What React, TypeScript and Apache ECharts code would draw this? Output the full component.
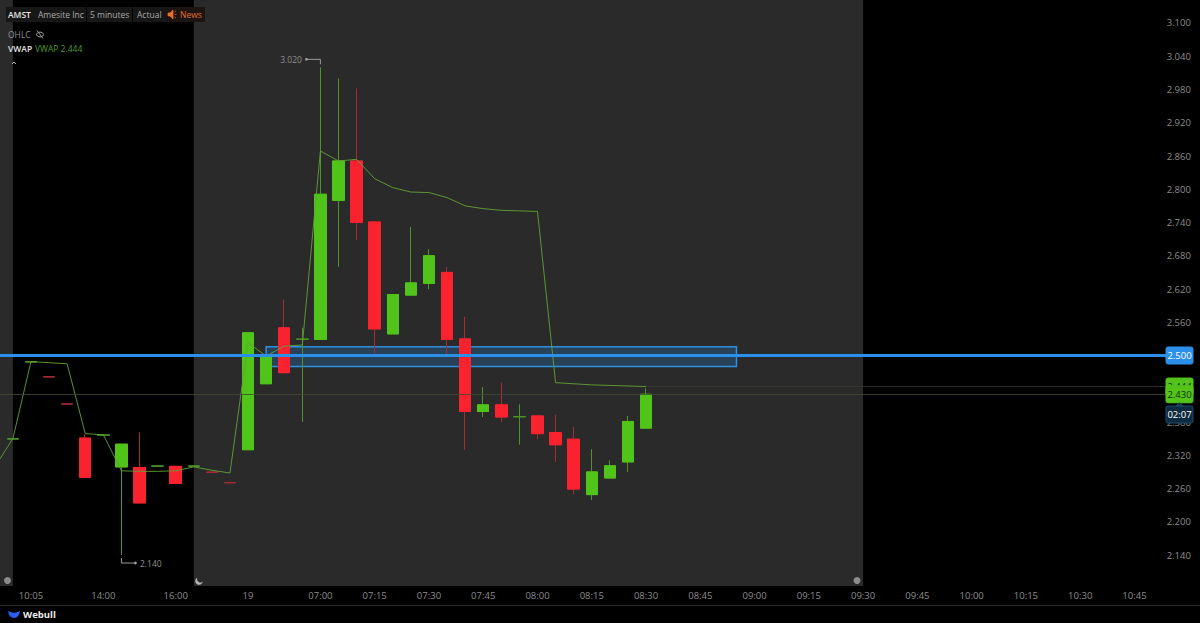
import React, { useEffect, useRef } from "react";
import * as echarts from "echarts";

const FONT = '"Open Sans", "Noto Sans", sans-serif';

const categories = ["", "", "10:05", "", "", "", "14:00", "", "", "", "16:00", "", "", "", "19", "", "", "", "07:00", "", "", "07:15", "", "", "07:30", "", "", "07:45", "", "", "08:00", "", "", "08:15", "", "", "08:30", "", "", "08:45", "", "", "09:00", "", "", "09:15", "", "", "09:30", "", "", "09:45", "", "", "10:00", "", "", "10:15", "", "", "10:30", "", "", "10:45", "", ""];

const opens = [null, 2.349, 2.488, 2.462, 2.413, 2.351, 2.356, 2.299, 2.298, 2.300, 2.300, 2.300, 2.290, 2.271, 2.330, 2.449, 2.550, 2.529, 2.529, 2.780, 2.851, 2.741, 2.539, 2.609, 2.630, 2.650, 2.530, 2.399, 2.411, 2.389, 2.391, 2.361, 2.349, 2.249, 2.279, 2.308, 2.369];
const closes = [null, 2.350, 2.489, 2.461, 2.412, 2.280, 2.357, 2.340, 2.234, 2.301, 2.269, 2.301, 2.289, 2.270, 2.541, 2.499, 2.469, 2.530, 2.791, 2.851, 2.740, 2.548, 2.610, 2.631, 2.680, 2.529, 2.399, 2.411, 2.389, 2.390, 2.359, 2.339, 2.259, 2.290, 2.301, 2.381, 2.430];
const lows = [null, 2.349, 2.488, 2.461, 2.412, 2.280, 2.356, 2.140, 2.234, 2.300, 2.269, 2.300, 2.289, 2.270, 2.330, 2.449, 2.469, 2.380, 2.529, 2.660, 2.708, 2.503, 2.539, 2.609, 2.620, 2.501, 2.330, 2.389, 2.380, 2.339, 2.349, 2.308, 2.250, 2.239, 2.279, 2.290, 2.369];
const highs = [null, 2.350, 2.489, 2.462, 2.413, 2.358, 2.357, 2.340, 2.361, 2.301, 2.300, 2.301, 2.290, 2.271, 2.541, 2.499, 2.601, 2.550, 3.020, 3.000, 2.982, 2.741, 2.610, 2.732, 2.692, 2.660, 2.570, 2.443, 2.451, 2.412, 2.391, 2.393, 2.371, 2.331, 2.311, 2.391, 2.441];
const vwap = [2.299, 2.350, 2.489, 2.487, 2.485, 2.359, 2.357, 2.292, 2.291, 2.291, 2.292, 2.299, 2.293, 2.288, 2.523, 2.499, 2.517, 2.519, 2.869, 2.851, 2.854, 2.819, 2.803, 2.795, 2.794, 2.785, 2.770, 2.765, 2.762, 2.761, 2.760, 2.451, 2.449, 2.447, 2.446, 2.445, 2.444];

const priceTicks = [3.1, 3.04, 2.98, 2.92, 2.86, 2.8, 2.74, 2.68, 2.62, 2.56, 2.5, 2.44, 2.38, 2.32, 2.26, 2.2, 2.14];
const extremes = [[18, 3.02, -1], [7, 2.14, 1]];
const tagData = [[0, 2.5, 0], [0, 2.444, 1], [0, 2.43, 2], [0, 2.3935, 3]];
const tagTexts = ["2.500", "2.444", "2.430", "02:07"];
const tagFills = ["#2a90ea", "#52c41a", "#52c41a", "#0e2a40"];
const tagInks = ["#ffffff", "#123008", "#123008", "#ffffff"];

const UP = "#50c418";
const DOWN = "#f9232f";
const UP_DIM = "#4c9526";
const DOWN_DIM = "#a52c36";
const PANEL = "#2a2a2a";
const BLUE = "#2a90ea";

const ohlc = opens.map((o, i) => (o === null ? ["-", "-", "-", "-"] : [o, closes[i], lows[i], highs[i]]));
const bodies = opens.map((o, i) => {
  const c = closes[i];
  if (o === null || Math.abs((o as number) - (c as number)) < 0.002) return ["-", "-", "-", "-"];
  return [o, c, Math.min(o as number, c as number), Math.max(o as number, c as number)];
});

echarts.graphic.registerShape("wbLogo", echarts.graphic.extendPath("M0 0 Q6 3.5 12 0 Q11 7 6 7 Q1 7 0 0Z", {}));
echarts.graphic.registerShape("speaker", echarts.graphic.extendPath("M0 3 H2 L5 0 V9 L2 6 H0Z M6.5 2 L8 1 M6.5 4.5 H8.5 M6.5 7 L8 8", {}));
echarts.graphic.registerShape("eyeOff", echarts.graphic.extendPath("M0 4 Q4 -1 8 4 Q4 9 0 4Z M1 0 L7 8", {}));

function label(text: string, x: number, y: number, fill: string, weight = 400) {
  return { type: "text", x, y, z: 20, style: { text, fill, font: `${weight} 8.5px ${FONT}`, verticalAlign: "middle" } };
}

function box(x: number, width: number) {
  return { type: "rect", z: 19, shape: { x, y: 7, width, height: 15 }, style: { fill: "#171717" } };
}

function renderExtreme(params: any, api: any) {
  const price = api.value(1);
  const dir = api.value(2);
  const [x, y] = api.coord([api.value(0), price]);
  const elbowY = y + dir * 8;
  const endX = x + dir * 14;
  const stroke = "#9a9a9a";
  return {
    type: "group",
    children: [
      { type: "polyline", shape: { points: [[x, y + dir * 3], [x, elbowY], [endX, elbowY]] }, style: { stroke, lineWidth: 1, fill: "none" } },
      { type: "circle", shape: { cx: endX, cy: elbowY, r: 1.4 }, style: { fill: stroke } },
      { type: "text", style: { x: x + dir * 18.5, y: elbowY, text: price.toFixed(3), fill: "#8f8f8f", font: `8.5px ${FONT}`, align: dir > 0 ? "left" : "right", verticalAlign: "middle" } },
    ],
  };
}

function renderTag(params: any, api: any) {
  const i = api.value(2);
  const y = api.coord([0, api.value(1)])[1];
  const h = 17;
  const children: any[] = [
    { type: "rect", shape: { x: 1166, y: y - h / 2, width: 27, height: h, r: 2 }, style: { fill: tagFills[i], stroke: i === 3 ? "#1f4d6e" : tagFills[i], lineWidth: 1 } },
    { type: "text", style: { x: 1179.5, y, text: tagTexts[i], fill: tagInks[i], font: `9.5px ${FONT}`, align: "center", verticalAlign: "middle" } },
  ];
  if (i === 3) {
    children.unshift({ type: "polygon", shape: { points: [[1176, y - h / 2], [1179.5, y - h / 2 - 3], [1183, y - h / 2]] }, style: { fill: tagFills[i], stroke: "#1f4d6e", lineWidth: 1 } });
  }
  return { type: "group", children };
}

export default function App() {
  const ref = useRef<HTMLDivElement>(null);
  useEffect(() => {
    document.body.style.margin = "0";
    document.body.style.background = "#000";
    const chart = echarts.init(ref.current!, undefined, { renderer: "svg" });
    chart.setOption({
      animation: false,
      backgroundColor: "#000000",
      grid: { left: -14.25, top: 0, width: 1193.94, height: 586, outerBoundsMode: "none", containLabel: false },
      xAxis: {
        type: "category",
        data: categories,
        boundaryGap: true,
        axisLine: { show: false },
        axisTick: { show: false },
        splitLine: { show: false },
        axisLabel: { interval: 0, color: "#8c8c8c", fontFamily: FONT, fontSize: 9.5, margin: 4 },
      },
      yAxis: {
        type: "value",
        position: "right",
        offset: -13,
        min: 2.0841,
        max: 3.1415,
        splitLine: { show: false },
        axisLine: { show: false },
        axisTick: { show: false },
        axisLabel: {
          customValues: priceTicks,
          color: "#8c8c8c",
          fontFamily: FONT,
          fontSize: 9.5,
          margin: 0,
          formatter: (v: number) => v.toFixed(3),
        },
      },
      series: [
        {
          type: "line",
          name: "sessions",
          z: 1,
          data: [],
          silent: true,
          markArea: {
            silent: true,
            itemStyle: { color: PANEL },
            label: { show: false },
            data: [
              [{ xAxis: 0 }, { xAxis: 1 }],
              [{ xAxis: 11 }, { xAxis: 48 }],
            ],
          },
        },
        {
          type: "candlestick",
          name: "wicks",
          z: 2,
          barWidth: 12,
          silent: true,
          data: ohlc,
          itemStyle: { color: UP_DIM, color0: DOWN_DIM, borderColor: UP_DIM, borderColor0: DOWN_DIM, borderWidth: 1 },
        },
        {
          type: "candlestick",
          name: "bodies",
          z: 3,
          barWidth: 12,
          silent: true,
          data: bodies,
          itemStyle: { color: UP, color0: DOWN, borderColor: UP, borderColor0: DOWN, borderWidth: 1 },
        },
        {
          type: "line",
          name: "VWAP",
          z: 4,
          data: vwap,
          showSymbol: false,
          symbol: "none",
          silent: true,
          lineStyle: { color: "#62a236", width: 1, opacity: 0.9 },
          markLine: {
            silent: true,
            symbol: "none",
            label: { show: false },
            lineStyle: { type: "solid", width: 1, color: "#414a36", opacity: 0.8 },
            data: [
              { yAxis: 2.43 },
              [
                { xAxis: 36, yAxis: 2.444, lineStyle: { type: "solid", width: 1, color: "#343c2e", opacity: 0.8 } },
                { xAxis: 65, yAxis: 2.444 },
              ],
            ],
          },
        },
        {
          type: "line",
          name: "zone",
          z: 5,
          data: [],
          silent: true,
          markArea: {
            silent: true,
            label: { show: false },
            itemStyle: { color: "rgba(42,144,234,0.24)", borderColor: "#2f8fdf", borderWidth: 1.5 },
            data: [[{ xAxis: 15, yAxis: 2.516 }, { xAxis: 41, yAxis: 2.48 }]],
          },
          markLine: {
            silent: true,
            symbol: "none",
            label: { show: false },
            lineStyle: { type: "solid", color: BLUE, width: 3 },
            data: [{ yAxis: 2.5 }],
          },
        },
        { type: "custom", name: "extremes", z: 6, silent: true, data: extremes, renderItem: renderExtreme },
        { type: "custom", name: "tags", z: 7, silent: true, data: tagData, renderItem: renderTag },
      ],
      graphic: [
        box(6, 80), box(87, 45), box(133, 33),
        { type: "rect", z: 19, shape: { x: 166, y: 7, width: 39, height: 15 }, style: { fill: "#1b1410" } },
        label("AMST", 8, 14.5, "#e4e4e4", 600),
        label("Amesite Inc", 38, 14.5, "#a9a9a9"),
        label("5 minutes", 90, 14.5, "#a9a9a9"),
        label("Actual", 137, 14.5, "#a9a9a9"),
        { type: "speaker", x: 168, y: 10, z: 20, style: { fill: "#e8702a", stroke: "#e8702a", lineWidth: 0.7 } },
        label("News", 180, 14.5, "#e8702a"),
        label("OHLC", 8, 34.5, "#8f8f8f"),
        { type: "eyeOff", x: 36, y: 30.5, z: 20, style: { fill: "none", stroke: "#a0a0a0", lineWidth: 1 } },
        label("VWAP", 8, 48.5, "#e4e4e4", 600),
        label("VWAP 2.444", 35, 48.5, "#4f9e2a"),
        { type: "polyline", z: 20, shape: { points: [[12, 64], [14, 62], [16, 64]] }, style: { stroke: "#b0b0b0", lineWidth: 1, fill: "none" } },
        { type: "circle", z: 20, shape: { cx: 7.5, cy: 580.5, r: 3.5 }, style: { fill: "#8c8c8c" } },
        { type: "circle", z: 20, shape: { cx: 857, cy: 580.5, r: 3.5 }, style: { fill: "#8c8c8c" } },
        { type: "circle", z: 20, shape: { cx: 199, cy: 581, r: 3.8 }, style: { fill: "#b4b4b4" } },
        { type: "circle", z: 21, shape: { cx: 200.5, cy: 579, r: 3.5 }, style: { fill: PANEL } },
        { type: "line", z: 20, shape: { x1: 0, y1: 605.5, x2: 1200, y2: 605.5 }, style: { stroke: "#2c2c2c", lineWidth: 1 } },
        { type: "wbLogo", x: 8, y: 611, z: 20, style: { fill: "#2c5cf0" } },
        { type: "text", x: 23, y: 614.5, z: 20, style: { text: "Webull", fill: "#eeeeee", font: `700 9.5px ${FONT}`, verticalAlign: "middle" } },
      ],
    });
    return () => chart.dispose();
  }, []);
  return <div ref={ref} style={{ position: "absolute", left: 0, top: 0, width: 1200, height: 623 }} />;
}
